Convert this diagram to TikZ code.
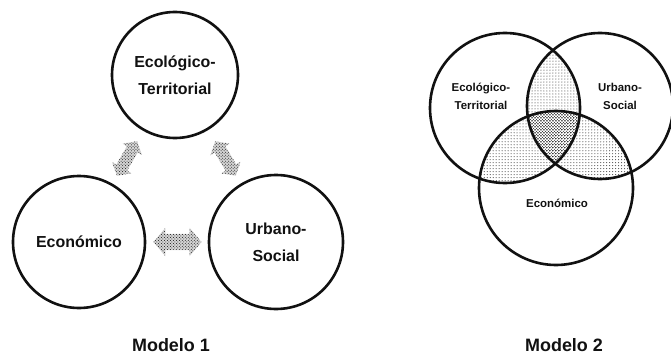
\documentclass[tikz,border=0pt]{standalone}
\usepackage{fontspec}
\setmainfont{Liberation Sans}
\usepackage{xcolor}
\usetikzlibrary{shapes.arrows,patterns,calc}
\definecolor{ink}{HTML}{111111}
\tikzset{
  ring/.style={draw=ink,circle,line width=2.6bp,inner sep=0pt},
  bigtext/.style={font=\fontsize{16}{27}\selectfont\bfseries,align=center,text=ink},
  smalltext/.style={font=\fontsize{11.5}{18}\selectfont\bfseries,align=center,text=ink},
  modlabel/.style={font=\fontsize{18}{20}\selectfont\bfseries,text=ink},
  linkarr/.style={double arrow,draw=none,preaction={fill=ink!18},
                  pattern=crosshatch dots,pattern color=ink,
                  inner xsep=0pt,double arrow tip angle=100},
  lens/.style={pattern=dots,pattern color=ink}
}

\begin{document}
\begin{tikzpicture}[x=1bp,y=1bp]
  \useasboundingbox (0,0) rectangle (671,354);

  % Modelo 1
  \node[ring,minimum size=126bp] (eco) at (175,279) {};
  \node[ring,minimum size=132bp] (eca) at (79,112) {};
  \node[ring,minimum size=134bp] (urb) at (276,112) {};
  \node[bigtext] at (eco) {Ecológico-\\Territorial};
  \node[bigtext] at (eca) {Económico};
  \node[bigtext] at (urb) {Urbano-\\Social};

  \node[linkarr,minimum height=40bp,inner ysep=6bp,double arrow head extend=5bp,rotate=60] (ar1) at ($(eco)!0.5!(eca)$) {};
  \node[linkarr,minimum height=40bp,inner ysep=6bp,double arrow head extend=5bp,rotate=121] (ar2) at ($(eco)!0.5!(urb)$) {};
  \node[linkarr,minimum height=48bp,inner ysep=8bp,double arrow head extend=6bp] (ar3) at ($(eca)!0.5!(urb)$) {};

  \node[modlabel] (m1) at (171,9) {Modelo 1};

  % Modelo 2
  \coordinate (ve) at (505,246);
  \coordinate (vu) at (600,248);
  \coordinate (vc) at (556,166);
  \begin{scope}
    \clip (ve) circle (75);
    \fill[lens] (vu) circle (73);
    \fill[lens] (vc) circle (77);
  \end{scope}
  \begin{scope}
    \clip (vu) circle (73);
    \fill[lens] (vc) circle (77);
  \end{scope}
  \begin{scope}
    \clip (ve) circle (75);
    \clip (vu) circle (73);
    \fill[pattern=crosshatch dots,pattern color=ink] (vc) circle (77);
  \end{scope}
  \node[ring,minimum size=150bp] (v1) at (ve) {};
  \node[ring,minimum size=146bp] (v2) at (vu) {};
  \node[ring,minimum size=154bp] (v3) at (vc) {};
  \node[smalltext] (t1) at (481,258) {Ecológico-\\Territorial};
  \node[smalltext] (t2) at (620,258) {Urbano-\\Social};
  \node[smalltext] (t3) at (557,151) {Económico};

  \node[modlabel] (m2) at (564,9) {Modelo 2};
\end{tikzpicture}
\end{document}
